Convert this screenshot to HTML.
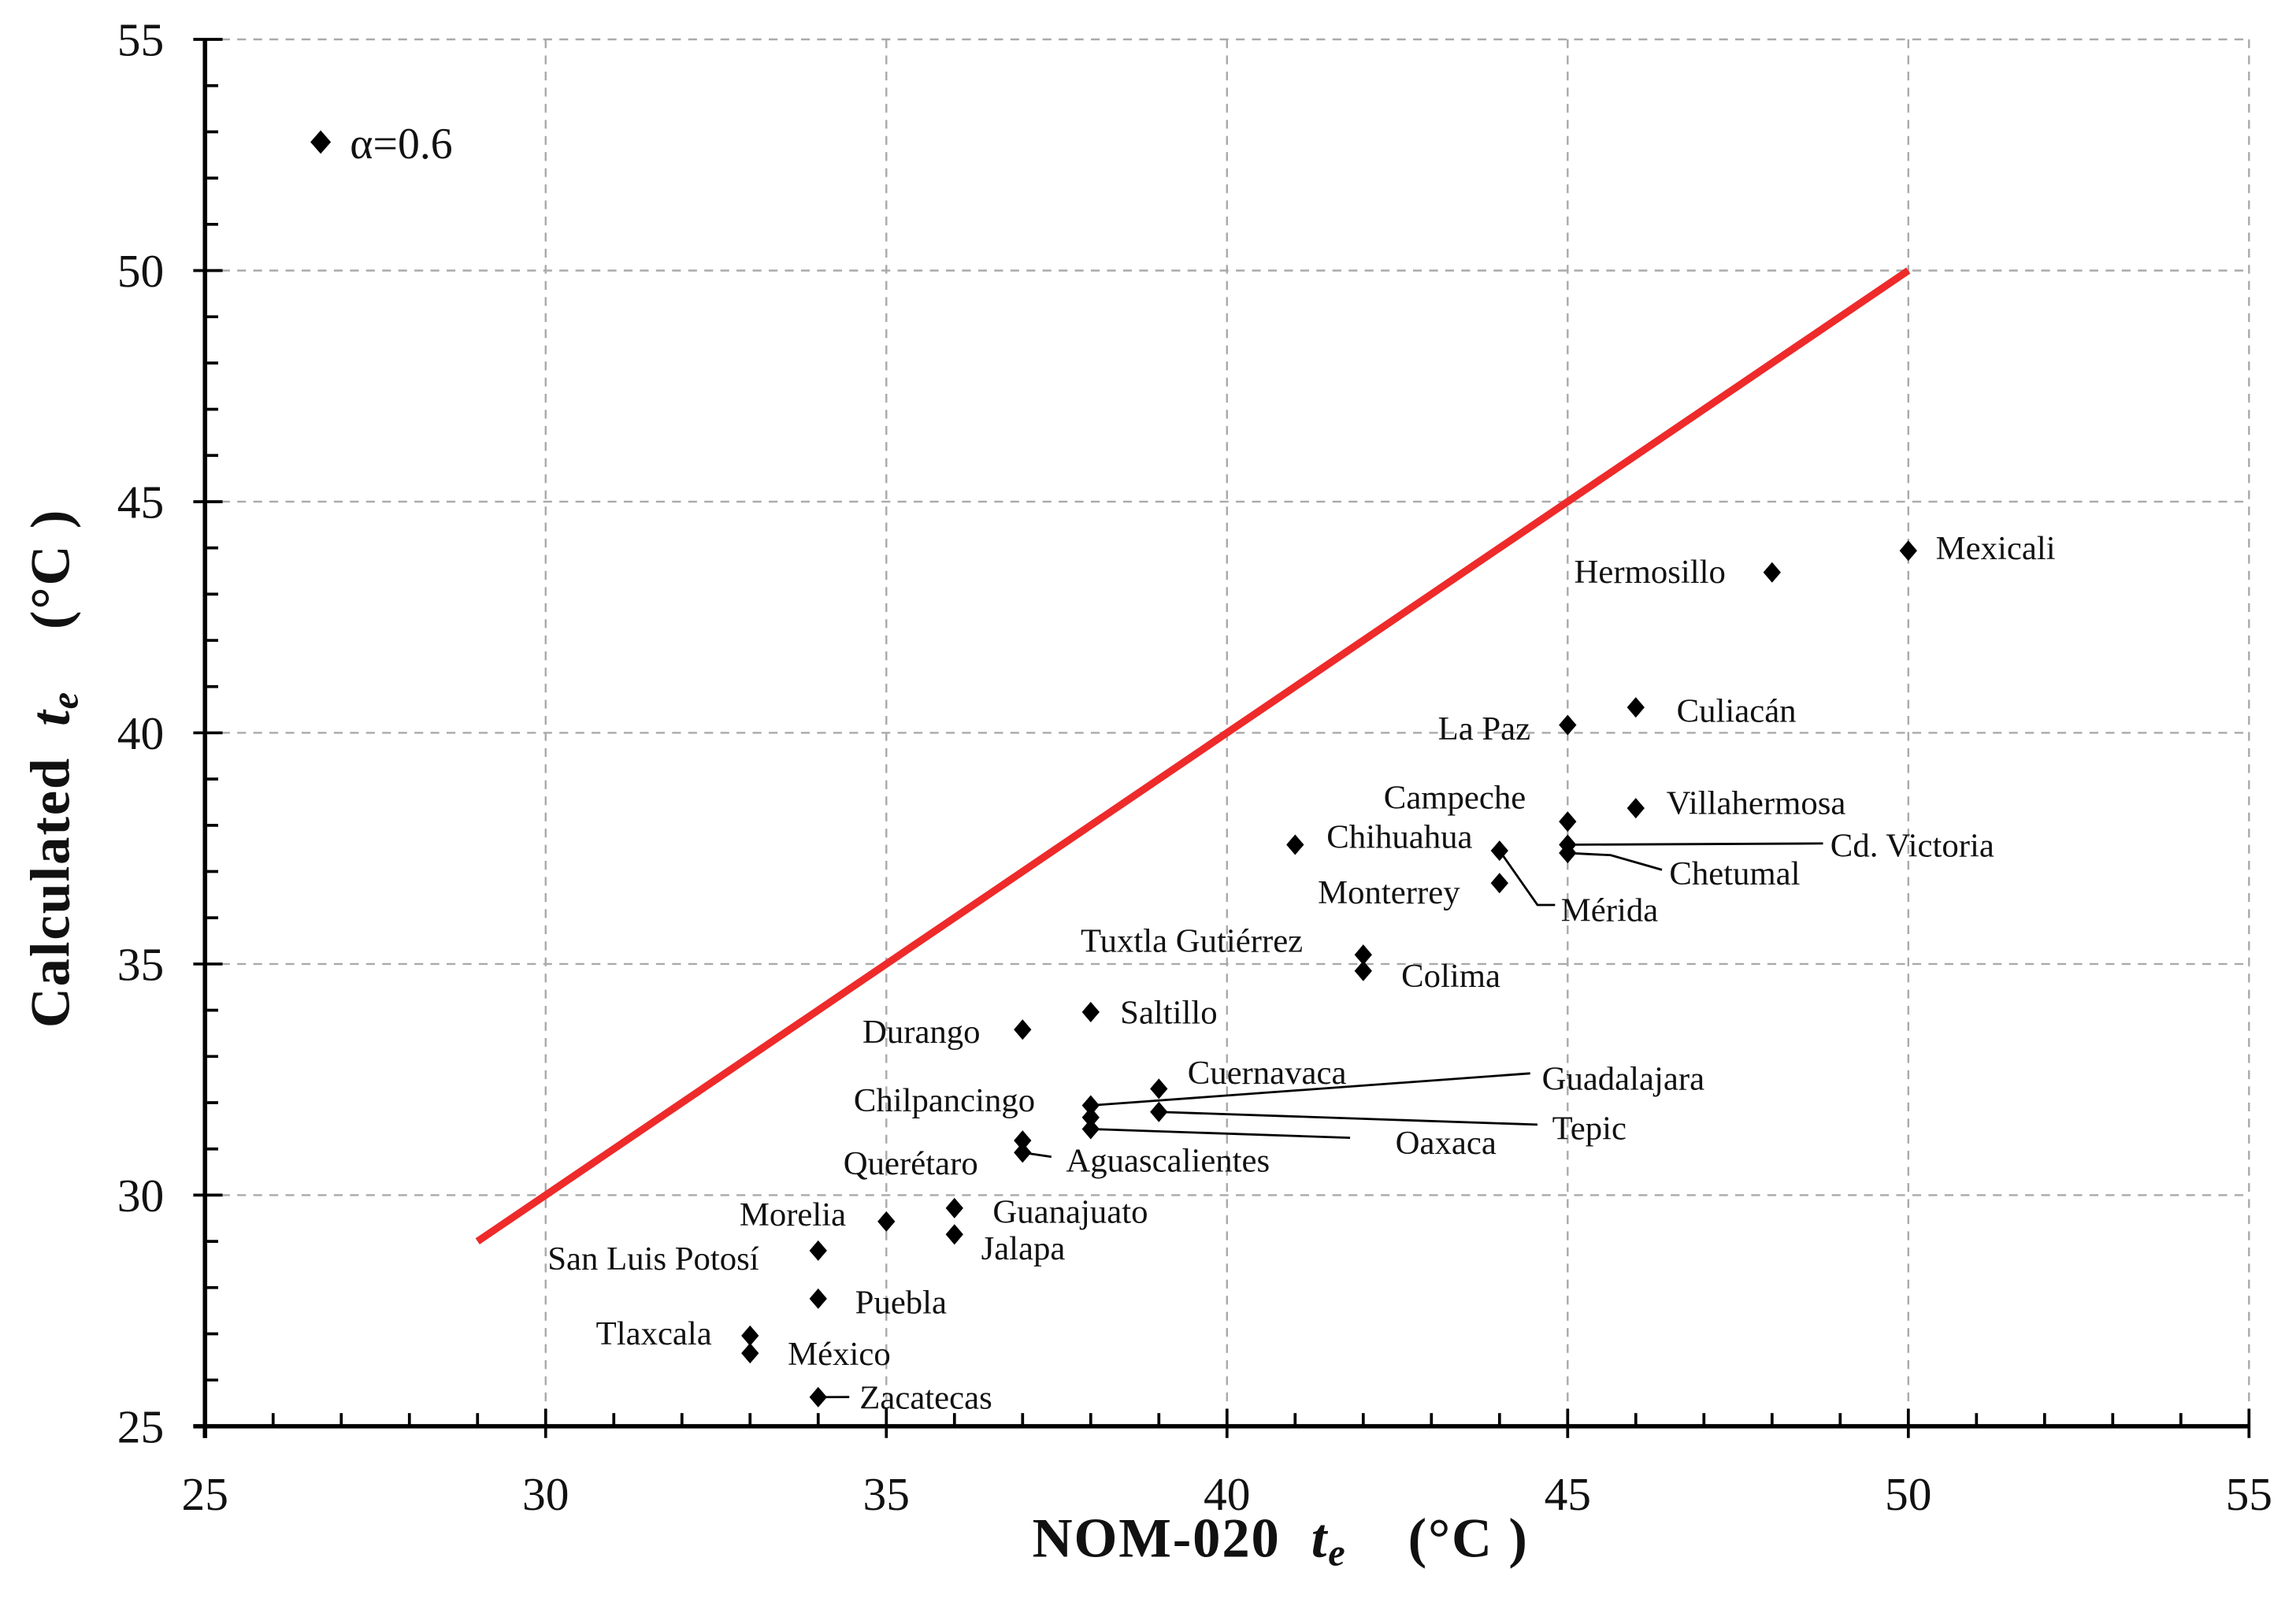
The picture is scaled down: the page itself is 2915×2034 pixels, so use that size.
<!DOCTYPE html>
<html><head><meta charset="utf-8"><style>
html,body{margin:0;padding:0;background:#fff;}
svg{display:block;}
text{font-family:"Liberation Serif",serif;fill:#111;}
</style></head><body>
<svg id="chart" width="2915" height="2034" viewBox="0 0 1568 1094" preserveAspectRatio="none" xmlns="http://www.w3.org/2000/svg">
<g id="grid"></g>
<g id="axes"></g>
<g id="leaders"></g>
<g id="marks"></g>
<g id="labels"></g>
<text x="705" y="1063" font-size="38" font-weight="bold" letter-spacing="1" xml:space="preserve">NOM-020  <tspan font-style="italic">t<tspan font-size="26" dy="6">e</tspan></tspan><tspan dy="-6">    (°C )</tspan></text>
<text transform="translate(47,702) rotate(-90)" font-size="38" font-weight="bold" letter-spacing="1" xml:space="preserve">Calculated  <tspan font-style="italic">t<tspan font-size="26" dy="6">e</tspan></tspan><tspan dy="-6">    (°C )</tspan></text>
<path d="M219,89 L226,97 L219,105 L212,97 Z" fill="#000"/>
<text x="239" y="108" font-size="30">α=0.6</text>
</svg>
<script>
const cities = ["Mexicali","Hermosillo","Culiacán","La Paz","Villahermosa","Campeche","Cd. Victoria","Chetumal","Chihuahua","Mérida","Monterrey","Tuxtla  Gutiérrez","Colima","Saltillo","Durango","Cuernavaca","Guadalajara","Tepic","Chilpancingo","Oaxaca","Querétaro","Aguascalientes","Guanajuato","Morelia","Jalapa","San Luis  Potosí","Puebla","Tlaxcala","México","Zacatecas"];
const nomTe = [50,48,46,45,46,45,45,45,41,44,44,42,42,38,37,39,38,39,38,38,37,37,36,35,36,34,34,33,33,34];
const calcTe = [43.94,43.47,40.55,40.17,38.37,38.08,37.58,37.4,37.58,37.45,36.75,35.2,34.85,33.96,33.58,32.3,31.94,31.8,31.68,31.43,31.18,30.92,29.72,29.43,29.15,28.8,27.76,26.96,26.58,25.63];
const xTicks = [25,30,35,40,45,50,55];
const yTicks = [25,30,35,40,45,50,55];
const lineX = [29,50];
const lineY = [29,50];
</script>
<script>
const NS="http://www.w3.org/2000/svg";
const X=v=>140+(v-25)*46.53, Y=v=>974-(v-25)*31.57;
function mk(tag,attrs,parent){const e=document.createElementNS(NS,tag);for(const k in attrs)e.setAttribute(k,attrs[k]);parent.appendChild(e);return e;}
const grid=document.getElementById('grid'),axes=document.getElementById('axes'),marks=document.getElementById('marks'),labels=document.getElementById('labels'),leaders=document.getElementById('leaders');
xTicks.forEach(t=>{if(t>25){const l=mk('line',{x1:X(t),x2:X(t),y1:Y(55),y2:Y(25),stroke:'#aaa','stroke-width':1.3,'stroke-dasharray':'6,5'},grid);

}
const tx=mk('text',{x:X(t),y:1031,'font-size':32,'text-anchor':'middle'},axes);tx.textContent=t;

});
yTicks.forEach(t=>{if(t>25){const l=mk('line',{x1:X(25),x2:X(55),y1:Y(t),y2:Y(t),stroke:'#aaa','stroke-width':1.3,'stroke-dasharray':'6,5'},grid);

}
const tx=mk('text',{x:112,y:Y(t)+11,'font-size':32,'text-anchor':'end'},axes);tx.textContent=t;

});
for(let v=25;v<=55;v++){const major=v%5===0;
mk('line',{x1:X(v),x2:X(v),y1:Y(25)+(major?8:0),y2:Y(25)-(major?12:9),stroke:'#000','stroke-width':2},axes);
mk('line',{x1:X(25)-(major?8:0),x2:X(25)+(major?12:9),y1:Y(v),y2:Y(v),stroke:'#000','stroke-width':2},axes);}
const xa=mk('line',{x1:X(25)-8,x2:X(55),y1:Y(25),y2:Y(25),stroke:'#000','stroke-width':3},axes);


const ya=mk('line',{x1:X(25),x2:X(25),y1:Y(55),y2:Y(25)+8,stroke:'#000','stroke-width':3},axes);


const rl=mk('line',{x1:X(lineX[0]),y1:Y(lineY[0]),x2:X(lineX[1]),y2:Y(lineY[1]),stroke:'#ee2a2a','stroke-width':5},axes);


const labPos=[[1322,382],[1075,398],[1145,493],[982,505],[1138,556],[945,552],[1250,585],[1140,604],[906,579],[1066,629],[900,617],[738,650],[957,674],[765,699],[589,712],[811,740],[1053,744],[1060,778],[583,759],[953,788],[576,802],[728,800],[678,835],[505,837],[670,860],[374,867],[584,897],[407,918],[538,932],[587,962]];
cities.forEach((c,i)=>{const x=X(nomTe[i]),y=Y(calcTe[i]);
const p=mk('path',{d:`M${x},${y-7} L${x+6},${y} L${x},${y+7} L${x-6},${y} Z`,fill:'#000'},marks);


const t=mk('text',{x:labPos[i][0],y:labPos[i][1],'font-size':23},labels);t.textContent=c;

});
function lead(i,pts){const x=X(nomTe[i]),y=Y(calcTe[i]);
const l=mk('polyline',{points:[[x,y]].concat(pts).map(p=>p.join(',')).join(' '),fill:'none',stroke:'#000','stroke-width':1.5},leaders);

}
lead(6,[[1245,576]]);lead(7,[[1100,584],[1135,594]]);lead(9,[[1050,618],[1062,618]]);
lead(16,[[1045,733]]);lead(17,[[1050,768]]);lead(19,[[922,777]]);lead(21,[[718,790]]);lead(29,[[580,954]]);
</script>
</body></html>
